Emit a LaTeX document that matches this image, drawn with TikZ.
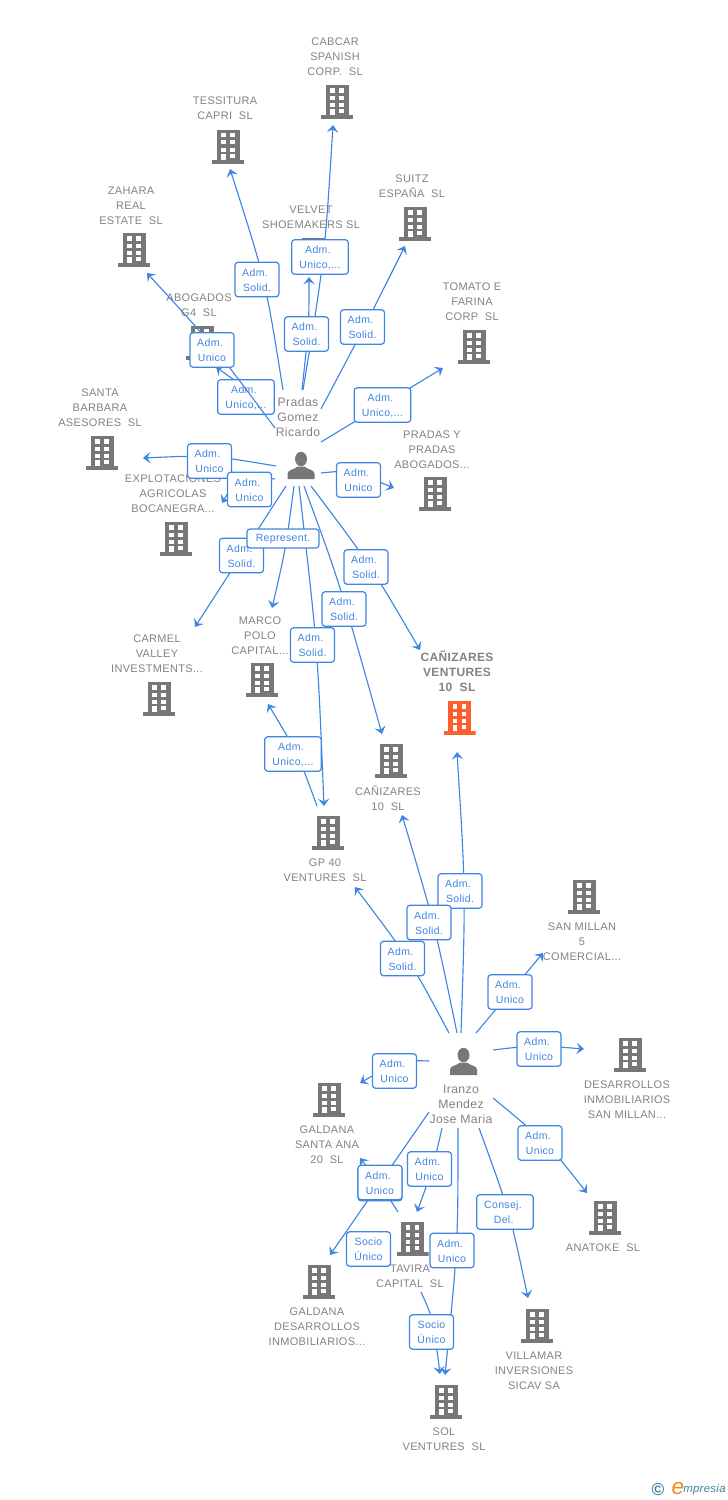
\documentclass[tikz,border=0pt]{standalone}
\usepackage{fontspec}
\setmainfont[LetterSpace=3.0]{Liberation Sans}
\usetikzlibrary{arrows.meta}
\definecolor{linkblue}{HTML}{3F85E2}
\definecolor{iconcolor}{HTML}{777777}
\definecolor{namecolor}{HTML}{828282}
\definecolor{hotcolor}{HTML}{FF5F2E}
\definecolor{brandteal}{HTML}{3F7F9A}
\definecolor{brandorange}{HTML}{F28A1E}
\newcommand{\twolines}[2]{\rule{0pt}{6.7pt}#1\\#2}
\newcommand{\adm}[1]{\twolines{Adm.\rule{3pt}{0pt}}{#1}}
\tikzset{
    building/.style={
        rectangle,
        inner sep=0pt,
        minimum width=24pt,
        minimum height=25.5pt,
        path picture={
            \begin{scope}[shift={(path picture bounding box.center)}]
                \fill[#1] (-11.5,-17) rectangle (11.5,13);
                \fill[#1] (-16,13) rectangle (16,17);
                \foreach \r in {-13.7,-6.3,1.0} {
                    \fill[white] (-7,\r) rectangle ++(4.5,4.2);
                    \fill[white] (2,\r) rectangle ++(4.5,4.2);
                }
                \fill[white] (2,7) rectangle ++(4.5,4);
                \fill[white] (-7,7) rectangle (-2.5,13);
            \end{scope}
        }
    },
    building/.default=iconcolor,
    person/.style={
        rectangle,
        inner sep=0pt,
        minimum width=21pt,
        minimum height=21pt,
        path picture={
            \begin{scope}[shift={(path picture bounding box.center)}]
                \fill[iconcolor] (0,-6.5) ellipse [x radius=6, y radius=7.2];
                \fill[iconcolor] (-13.5,13.5) -- (-13.5,8) .. controls (-13.5,4) and (-6,4) .. (-3.5,1) -- (3.5,1)
                    .. controls (6,4) and (13.5,4) .. (13.5,8) -- (13.5,13.5) -- cycle;
            \end{scope}
        }
    },
    compname/.style={
        align=center,
        inner sep=0pt,
        yshift=-0.5pt,
        text=namecolor,
        font=\fontsize{8.25}{11.25}\selectfont
    },
    persname/.style={
        align=center,
        inner sep=0pt,
        text=namecolor,
        font=\fontsize{9.2}{11.25}\selectfont
    },
    role/.style={
        rectangle,
        draw=linkblue,
        line width=0.9pt,
        rounded corners=2.2pt,
        fill=white,
        align=center,
        inner sep=0pt,
        minimum width=33pt,
        minimum height=25.8pt,
        text=linkblue,
        font=\fontsize{7.9}{11.25}\selectfont
    },
    widerole/.style={
        role,
        minimum width=42.5pt
    },
    link/.style={
        draw=linkblue,
        line width=0.85pt,
        -{Stealth[length=5.5pt,width=8.5pt,inset=2.2pt]}
    }
}
\begin{document}
\begin{tikzpicture}[x=0.75pt,y=-0.75pt]
\useasboundingbox (0,0) rectangle (728,1500);

% Company names
\node[compname] (cabcarname) at (335,56) {CABCAR\\SPANISH\\CORP.\ \ SL};
\node[compname] (tessituraname) at (225,107.5) {TESSITURA\\CAPRI\ \ SL};
\node[compname] (zaharaname) at (131,205) {ZAHARA\\REAL\\ESTATE\ \ SL};
\node[compname] (abogadosname) at (199,304.5) {ABOGADOS\\G4\ \ SL};
\node[compname] (velvetname) at (311,216.5) {VELVET\\SHOEMAKERS SL};
\node[compname] (suitzname) at (412,185.5) {SUITZ\\ESPAÑA\ \ SL};
\node[compname] (tomatoname) at (472,301) {TOMATO E\\FARINA\\CORP\ \ SL};
\node[compname] (santaname) at (100,407) {SANTA\\BARBARA\\ASESORES\ \ SL};
\node[compname] (explotaname) at (173,493) {EXPLOTACIONES\\AGRICOLAS\\BOCANEGRA...};
\node[compname] (pradasname) at (432,449) {PRADAS Y\\PRADAS\\ABOGADOS...};
\node[compname] (carmelname) at (157,653) {CARMEL\\VALLEY\\INVESTMENTS...};
\node[compname] (marconame) at (260,635) {MARCO\\POLO\\CAPITAL...};
\node[compname, font=\fontsize{9}{11.25}\bfseries] (venturesname) at (457,671) {CAÑIZARES\\VENTURES\\10\ \ SL};
\node[compname] (canizaresname) at (388,797.5) {CAÑIZARES\\10\ \ SL};
\node[compname] (gpname) at (325,869.5) {GP 40\\VENTURES\ \ SL};
\node[compname] (millanname) at (582,941) {SAN MILLAN\\5\\COMERCIAL...};
\node[compname] (desarrollosname) at (627,1099) {DESARROLLOS\\INMOBILIARIOS\\SAN MILLAN...};
\node[compname] (santaananame) at (327,1144) {GALDANA\\SANTA ANA\\20\ \ SL};
\node[compname] (taviraname) at (410,1275.5) {TAVIRA\\CAPITAL\ \ SL};
\node[compname] (galdananame) at (317,1326) {GALDANA\\DESARROLLOS\\INMOBILIARIOS...};
\node[compname] (villamarname) at (534,1370) {VILLAMAR\\INVERSIONES\\SICAV SA};
\node[compname] (anatokename) at (603,1247) {ANATOKE\ \ SL};
\node[compname] (solname) at (444,1438.5) {SOL\\VENTURES\ \ SL};

% Company icons
\node[building] (cabcar) at (337,102) {};
\node[building] (tessitura) at (228,146.5) {};
\node[building] (zahara) at (134,250) {};
\node[building] (abogados) at (202,343) {};
\node[building] (velvet) at (313,255) {};
\node[building] (suitz) at (415,224) {};
\node[building] (tomato) at (474,347) {};
\node[building] (santa) at (102,453) {};
\node[building] (explota) at (176,539) {};
\node[building] (pradas) at (435,494) {};
\node[building] (carmel) at (159,699) {};
\node[building] (marco) at (262,680) {};
\node[building=hotcolor] (ventures) at (459.5,718) {};
\node[building] (canizares) at (391,761) {};
\node[building] (gp) at (328,833) {};
\node[building] (millan) at (584,897) {};
\node[building] (desarrollos) at (630,1055) {};
\node[building] (santaana) at (329,1100) {};
\node[building] (tavira) at (412.5,1239) {};
\node[building] (galdana) at (319,1282) {};
\node[building] (villamar) at (537,1326) {};
\node[building] (anatoke) at (605,1218) {};
\node[building] (sol) at (446,1402) {};

% Persons
\node[person] (gomez) at (301,465.5) {};
\node[persname] (gomezname) at (298,417) {Pradas\\Gomez\\Ricardo};
\node[person] (iranzo) at (463.5,1061.5) {};
\node[persname] (iranzoname) at (461,1104) {Iranzo\\Mendez\\Jose Maria};

% Links from Pradas Gomez
\coordinate (g1) at (283,390); \coordinate (t1) at (230,169);
\coordinate (g2) at (303,390); \coordinate (t2) at (333,125);
\coordinate (g3) at (302,390); \coordinate (t3) at (309,277);
\coordinate (g4) at (321,409); \coordinate (t4) at (405,246);
\coordinate (g5) at (275,428); \coordinate (t5) at (147,273);
\coordinate (g6) at (255,395); \coordinate (t6) at (216,367);
\coordinate (g7) at (321,442); \coordinate (t7) at (443,368);
\coordinate (g8) at (276,466); \coordinate (t8) at (143,458);
\coordinate (g9) at (275,479); \coordinate (t9) at (222,503);
\coordinate (g10) at (321,473); \coordinate (t10) at (394,488);
\coordinate (g11) at (286,486); \coordinate (t11) at (195,627);
\coordinate (g12) at (294,486); \coordinate (t12) at (272,608);
\coordinate (g13) at (299,486); \coordinate (t13) at (324,806);
\coordinate (g14) at (304,486); \coordinate (t14) at (382,734);
\coordinate (g15) at (311,486); \coordinate (t15) at (420,650);
\coordinate (g16) at (317,806); \coordinate (t16) at (268,704);
\draw[link] (g1) .. controls (265.5,280) .. (t1);
\draw[link] (g2) .. controls (324.7,258) .. (t2);
\draw[link] (g3) .. controls (309,325) .. (t3);
\draw[link] (g4) .. controls (365,326) .. (t4);
\draw[link] (g6) -- (t6);
\node[widerole] (r6) at (246,397) {\adm{Unico,...}};
\draw[link] (g5) .. controls (213.7,345.8) .. (t5);
\draw[link] (g7) -- (t7);
\draw[link] (g8) .. controls (210,455) .. (t8);
\draw[link] (g9) .. controls (238,476) .. (t9);
\draw[link] (g10) .. controls (350,470) .. (t10);
\draw[link] (g11) -- (t11);
\draw[link] (g12) .. controls (285.7,549) .. (t12);
\draw[link] (g13) .. controls (317.5,646) .. (t13);
\draw[link] (g14) .. controls (339.7,583) .. (t14);
\draw[link] (g15) .. controls (369.8,564) .. (t15);
\draw[link] (g16) .. controls (298,754) .. (t16);

% Links from Iranzo Mendez
\coordinate (i1) at (461,1033); \coordinate (u1) at (457,752);
\coordinate (i2) at (457,1033); \coordinate (u2) at (402,815);
\coordinate (i3) at (449,1033); \coordinate (u3) at (355,887);
\coordinate (i4) at (476,1033); \coordinate (u4) at (543,953);
\coordinate (i5) at (493,1050); \coordinate (u5) at (584,1049);
\coordinate (i6) at (429,1061); \coordinate (u6) at (360,1083);
\coordinate (i7) at (493,1098); \coordinate (u7) at (587,1193);
\coordinate (i8) at (398,1212); \coordinate (u8) at (360,1158);
\coordinate (i9) at (429,1112); \coordinate (u9) at (330,1255);
\coordinate (i10) at (442,1128); \coordinate (u10) at (417,1212);
\coordinate (i11) at (458,1128); \coordinate (u11) at (445,1375);
\coordinate (i12) at (479,1128); \coordinate (u12) at (528,1298);
\coordinate (i13) at (421,1292); \coordinate (u13) at (440,1374);
\draw[link] (i1) .. controls (465.7,892) .. (u1);
\draw[link] (i2) .. controls (434.5,924) .. (u2);
\draw[link] (i3) .. controls (410,960) .. (u3);
\draw[link] (i4) -- (u4);
\draw[link] (i5) .. controls (535,1045) .. (u5);
\draw[link] (i6) .. controls (400,1060) .. (u6);
\draw[link] (i7) .. controls (548,1143.5) .. (u7);
\draw[link] (i8) .. controls (380,1184) .. (u8);
\draw[link] (i9) -- (u9);
\draw[link] (i10) .. controls (433,1168) .. (u10);
\draw[link] (i11) .. controls (458,1245) .. (u11);
\draw[link] (i12) .. controls (510,1213) .. (u12);
\draw[link] (i13) .. controls (433,1318) .. (u13);

% Role boxes, Pradas Gomez
\node[role] (r1) at (257,279.5) {\adm{Solid.}};
\node[widerole] (r2) at (320,257) {\adm{Unico,...}};
\node[role] (r3) at (306.5,334) {\adm{Solid.}};
\node[role] (r4) at (362.5,327) {\adm{Solid.}};
\node[role] (r5) at (212,350) {\adm{Unico}};
\node[widerole] (r7) at (382.5,405) {\adm{Unico,...}};
\node[role] (r8) at (209.5,461) {\adm{Unico}};
\node[role] (r9) at (249.5,489.5) {\adm{Unico}};
\node[role] (r10) at (358.5,480) {\adm{Unico}};
\node[role] (r11) at (241.5,555.5) {\adm{Solid.}};
\node[role, minimum width=54pt, minimum height=14.2pt] (r12) at (283,538.5) {\rule{0pt}{6.7pt}Represent.};
\node[role] (r13) at (312.5,645) {\adm{Solid.}};
\node[role] (r14) at (344,609) {\adm{Solid.}};
\node[role] (r15) at (366,567) {\adm{Solid.}};
\node[widerole] (r16) at (293,754) {\adm{Unico,...}};

% Role boxes, Iranzo Mendez
\node[role] (s1) at (460,891) {\adm{Solid.}};
\node[role] (s2) at (429,922.5) {\adm{Solid.}};
\node[role] (s3) at (402.5,958.5) {\adm{Solid.}};
\node[role] (s4) at (510,992) {\adm{Unico}};
\node[role] (s5) at (539,1049) {\adm{Unico}};
\node[role] (s6) at (394.5,1071) {\adm{Unico}};
\node[role] (s7) at (540,1143) {\adm{Unico}};
\node[role] (s8) at (380,1183.5) {};
\node[role] (s9) at (380,1182.5) {\adm{Unico}};
\node[role] (s10) at (429.5,1169) {\adm{Unico}};
\node[widerole] (s11) at (505,1212) {\twolines{Consej.\rule{3pt}{0pt}}{Del.\rule{2pt}{0pt}}};
\node[role] (s12) at (368.5,1249) {\twolines{Socio}{Único}};
\node[role] (s13) at (452,1250.5) {\adm{Unico}};
\node[role] (s14) at (431.5,1332) {\twolines{Socio}{Único}};

% Footer mark
\node[inner sep=0pt, text=brandteal, font=\fontsize{13}{13}\bfseries] (copymark) at (658,1489) {©};
\node[inner sep=0pt, text=brandorange, font=\fontsize{17}{17}\itshape] (brandmark) at (678,1488) {e};
\node[inner sep=0pt, text=brandteal, font=\fontsize{8.5}{10}\itshape, right=0pt] (brandtext) at (683,1490) {mpresia};

\end{tikzpicture}
\end{document}
